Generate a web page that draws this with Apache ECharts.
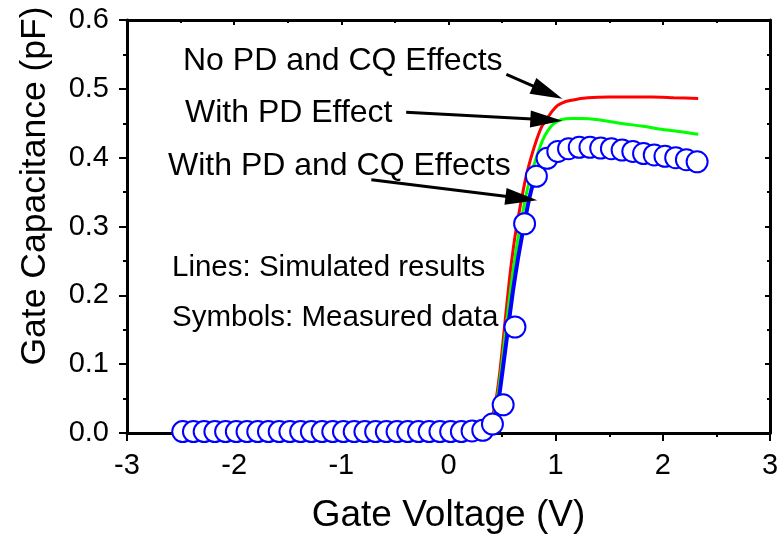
<!DOCTYPE html>
<html>
<head>
<meta charset="utf-8">
<script src="https://cdn.jsdelivr.net/npm/echarts@6/dist/echarts.min.js"></script>
<style>
  html, body { margin: 0; padding: 0; background: #fff; }
  #chart { width: 783px; height: 539px; }
</style>
</head>
<body>
<div id="chart"></div>
<script>
// simulated curves (gate voltage V, capacitance pF)
const noEffectV = [-2.5, 0.30, 0.36, 0.40, 0.44, 0.48, 0.52, 0.57, 0.62, 0.67, 0.72, 0.77, 0.82, 0.87, 0.92, 0.97, 1.02, 1.10, 1.20, 1.30, 1.50, 1.70, 1.90, 2.10, 2.33]
const noEffectC = [0.0, 0.002, 0.006, 0.02, 0.045, 0.09, 0.15, 0.225, 0.285, 0.33, 0.37, 0.40, 0.425, 0.445, 0.457, 0.468, 0.476, 0.482, 0.485, 0.487, 0.488, 0.488, 0.488, 0.487, 0.486]

const pdV = [-2.5, 0.30, 0.37, 0.41, 0.45, 0.49, 0.53, 0.58, 0.63, 0.68, 0.73, 0.78, 0.83, 0.88, 0.93, 0.98, 1.05, 1.15, 1.25, 1.40, 1.60, 1.80, 2.00, 2.20, 2.33]
const pdC = [0.0, 0.002, 0.006, 0.017, 0.045, 0.09, 0.145, 0.21, 0.265, 0.31, 0.35, 0.38, 0.405, 0.426, 0.44, 0.449, 0.455, 0.457, 0.457, 0.455, 0.45, 0.446, 0.441, 0.437, 0.434]

const pdCqV = [-2.5, 0.30, 0.38, 0.42, 0.46, 0.50, 0.55, 0.60, 0.65, 0.70, 0.75, 0.80, 0.85, 0.90, 0.95, 1.00, 1.10, 1.20, 1.30, 1.40, 1.60, 1.80, 2.00, 2.20, 2.33]
const pdCqC = [0.0, 0.002, 0.006, 0.015, 0.04, 0.085, 0.145, 0.205, 0.255, 0.298, 0.338, 0.368, 0.388, 0.40, 0.406, 0.41, 0.414, 0.416, 0.416, 0.415, 0.412, 0.407, 0.402, 0.398, 0.394]

// measured data
const measV = [-2.48, -2.38, -2.28, -2.18, -2.08, -1.98, -1.88, -1.78, -1.68, -1.58, -1.48, -1.38, -1.28, -1.18, -1.08, -0.98, -0.88, -0.78, -0.68, -0.58, -0.48, -0.38, -0.28, -0.18, -0.08, 0.02, 0.12, 0.22, 0.32,
  0.41, 0.51, 0.62, 0.71, 0.82, 0.92, 1.02, 1.12, 1.22, 1.32, 1.42, 1.52, 1.62, 1.72, 1.82, 1.92, 2.02, 2.12, 2.22, 2.32]
const measC = [0.002, 0.002, 0.002, 0.002, 0.002, 0.002, 0.002, 0.002, 0.002, 0.002, 0.002, 0.002, 0.002, 0.002, 0.002, 0.002, 0.002, 0.002, 0.002, 0.002, 0.002, 0.002, 0.002, 0.002, 0.002, 0.002, 0.002, 0.003, 0.004,
  0.013, 0.041, 0.154, 0.304, 0.373, 0.399, 0.409, 0.413, 0.415, 0.415, 0.414, 0.413, 0.411, 0.409, 0.406, 0.404, 0.402, 0.400, 0.397, 0.394]

// arrows: [start, end] in data coords
const arrows = [
  [[0.54, 0.521], [0.925, 0.495]],
  [[-0.395, 0.466], [0.913, 0.455]],
  [[-0.72, 0.368], [0.68, 0.341]]
]

const notes = [
  { text: 'No PD and CQ Effects', x: 183, y: 61, size: 32 },
  { text: 'With PD Effect', x: 185, y: 113, size: 32 },
  { text: 'With PD and CQ Effects', x: 168, y: 166, size: 32 },
  { text: 'Lines: Simulated results', x: 172, y: 268, size: 29.5 },
  { text: 'Symbols: Measured data', x: 172, y: 318, size: 29.5 }
]

const font = '"Liberation Sans", Arial, sans-serif'
const zip = (a, b) => a.map((v, i) => [v, b[i]])

const axisLine = { show: true, onZero: false, lineStyle: { color: '#000', width: 3 } }
const chart = echarts.init(document.getElementById('chart'))

chart.setOption({
  animation: false,
  grid: { left: 127, right: 13, top: 20, bottom: 102 },
  xAxis: [
    {
      type: 'value', min: -3, max: 3, interval: 1, position: 'bottom',
      axisLine, splitLine: { show: false },
      axisTick: { show: true, inside: false, length: 8, lineStyle: { width: 2, color: '#000' } },
      minorTick: { show: true, splitNumber: 2, length: 4, lineStyle: { width: 2, color: '#000' } },
      axisLabel: { color: '#000', fontSize: 29, fontFamily: font, margin: 18 },
      name: 'Gate Voltage (V)', nameLocation: 'middle', nameGap: 64,
      nameTextStyle: { color: '#000', fontSize: 37, fontFamily: font }
    },
    {
      type: 'value', min: -3, max: 3, interval: 1, position: 'top',
      axisLine, splitLine: { show: false },
      axisTick: { show: true, inside: true, length: 5, lineStyle: { width: 2, color: '#000' } },
      minorTick: { show: true, splitNumber: 2, length: 3, lineStyle: { width: 2, color: '#000' } },
      axisLabel: { show: false }
    }
  ],
  yAxis: [
    {
      type: 'value', min: 0, max: 0.6, interval: 0.1, position: 'left',
      axisLine, splitLine: { show: false },
      axisTick: { show: true, inside: false, length: 8, lineStyle: { width: 2, color: '#000' } },
      minorTick: { show: true, splitNumber: 2, length: 4, lineStyle: { width: 2, color: '#000' } },
      axisLabel: { color: '#000', fontSize: 29, fontFamily: font, margin: 18, formatter: v => v.toFixed(1) }
    },
    {
      type: 'value', min: 0, max: 0.6, interval: 0.1, position: 'right',
      axisLine, splitLine: { show: false },
      axisTick: { show: true, inside: true, length: 5, lineStyle: { width: 2, color: '#000' } },
      minorTick: { show: true, splitNumber: 2, length: 3, lineStyle: { width: 2, color: '#000' } },
      axisLabel: { show: false }
    }
  ],
  graphic: [
    {
      type: 'text', x: 35, y: 186, rotation: Math.PI / 2,
      style: { text: 'Gate Capacitance (pF)', font: '35.5px ' + font, fill: '#000', align: 'center', verticalAlign: 'middle' }
    },
    ...notes.map(n => ({
      type: 'text', x: n.x, y: n.y, z: 10,
      style: { text: n.text, font: n.size + 'px ' + font, fill: '#000', align: 'left', verticalAlign: 'middle' }
    }))
  ],
  series: [
    {
      name: 'No PD and CQ', type: 'line', data: zip(noEffectV, noEffectC), showSymbol: false,
      smooth: 0.2, lineStyle: { color: '#ff0000', width: 3 }, z: 2
    },
    {
      name: 'With PD', type: 'line', data: zip(pdV, pdC), showSymbol: false,
      smooth: 0.2, lineStyle: { color: '#00ff00', width: 3 }, z: 3
    },
    {
      name: 'With PD and CQ', type: 'line', data: zip(pdCqV, pdCqC), showSymbol: false,
      smooth: 0.2, lineStyle: { color: '#0000ff', width: 4 }, z: 4,
      markLine: {
        silent: true, animation: false,
        symbol: 'none', symbolSize: 10,
        label: { show: false },
        lineStyle: { color: '#000', width: 3, type: 'solid' },
        emphasis: { disabled: true },
        data: arrows.map(a => [
          { coord: a[0], symbol: 'none' },
          { coord: a[1], symbol: 'triangle', symbolSize: [17, 32], itemStyle: { color: '#000' } }
        ])
      }
    },
    {
      name: 'Measured', type: 'scatter', data: zip(measV, measC),
      symbol: 'circle', symbolSize: 21, z: 6,
      itemStyle: { color: '#ffffff', borderColor: '#0000ff', borderWidth: 2, opacity: 1 }
    }
  ]
})
</script>
</body>
</html>
